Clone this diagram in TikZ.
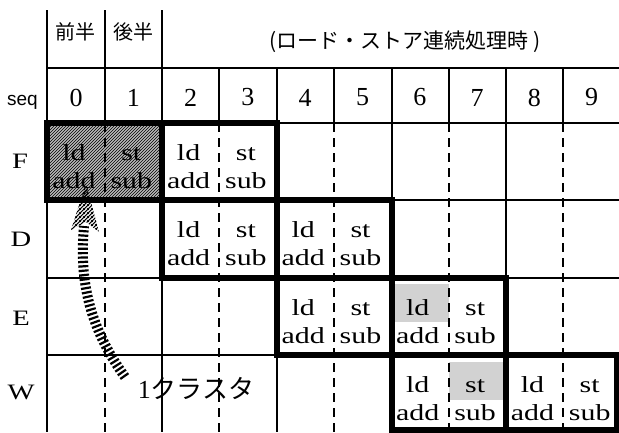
\documentclass[tikz,border=0pt]{standalone}
\usepackage{fontspec}
\setmainfont{Liberation Serif}
\newfontfamily\cellfont[FakeStretch=1.3]{Liberation Serif}
\newfontfamily\jpfont{Noto Sans CJK JP}
\newfontfamily\seqfont{Liberation Sans}
\usetikzlibrary{patterns,patterns.meta}

\tikzdeclarepattern{
  name=thickhatch,
  type=uncolored,
  bounding box={(0pt,0pt) and (4pt,4pt)},
  tile size={(4pt,4pt)},
  code={
    \draw[line width=1.3pt] (-1pt,-1pt) -- (5pt,5pt);
    \draw[line width=1.3pt] (-1pt,3pt) -- (1pt,5pt);
    \draw[line width=1.3pt] (3pt,-1pt) -- (5pt,1pt);
  }
}

\begin{document}
\begin{tikzpicture}[x=1pt,y=-1pt,
  gridline/.style={line width=1.1pt},
  dashline/.style={line width=1.1pt, dash pattern=on 9pt off 6pt},
  clusterbox/.style={line width=6pt},
  celltext/.style={font={\cellfont\fontsize{23}{28}\selectfont}, align=center, inner sep=0pt},
  rowlabel/.style={font={\cellfont\fontsize{22}{26}\selectfont}, inner sep=0pt},
  seqnum/.style={font={\fontsize{26}{30}\selectfont}, inner sep=0pt},
  jptext/.style={font={\jpfont\fontsize{20}{24}\selectfont}, inner sep=0pt},
  darkshade/.style={fill=gray!55},
  lightshade/.style={fill=gray!35},
  hatcharrow/.style={line width=10pt, dash pattern=on 2.2pt off 2.2pt},
]
\useasboundingbox (0,0) rectangle (619,432);

% shaded regions
\fill[darkshade] (47,123) rectangle (162,200);
\fill[pattern=north east lines] (47,123) rectangle (162,200);
\fill[lightshade] (394,284) rectangle (449,322);
\fill[lightshade] (449,362) rectangle (503,400);

% grid
\foreach \x in {47,105,162} \draw[gridline] (\x,10) -- (\x,123);
\foreach \x in {219,277,334,392,449,506,563} \draw[gridline] (\x,68) -- (\x,123);
\foreach \y in {68,123,200,278,355} \draw[gridline] (47,\y) -- (619,\y);
\foreach \x in {47,162,277,392,506} \draw[gridline] (\x,123) -- (\x,432);
\foreach \x in {105,219,334,449,563} \draw[dashline] (\x,123) -- (\x,432);

% cluster boxes
\foreach \xa/\xb/\ya/\yb in {47/162/123/200, 162/277/123/200, 162/277/200/278,
  277/392/200/278, 277/392/278/355, 392/506/278/355, 392/506/355/430, 506/617/355/430}
  \draw[clusterbox] (\xa,\ya) rectangle (\xb,\yb);

% header
\node[jptext] (zenhan) at (76,32) {前半};
\node[jptext] (kohan) at (133,32) {後半};
\node[jptext, font={\jpfont\fontsize{21}{24}\selectfont}] (title) at (405,42) {(ロード・ストア連続処理時 )};
\node[font={\seqfont\fontsize{19}{22}\selectfont}, anchor=base, inner sep=0pt] (seq) at (22.5,105) {seq};
\foreach \i in {0,...,9} {
  \pgfmathsetmacro{\cx}{76+57.3*\i}
  \node[seqnum] (n\i) at (\cx,97.5) {\i};
}

% row labels
\node[rowlabel] (rF) at (20,161.5) {F};
\node[rowlabel] (rD) at (21,239) {D};
\node[rowlabel] (rE) at (21,318) {E};
\node[rowlabel] (rW) at (21,392.5) {W};

% cell texts
\foreach \r/\ry/\ca in {F/123/0, F/123/2, D/200/2, D/200/4, E/278/4, E/278/6, W/355/6, W/355/8} {
  \pgfmathsetmacro{\xl}{76+57.3*\ca-2}
  \pgfmathsetmacro{\xr}{76+57.3*(\ca+1)-2}
  \pgfmathsetmacro{\yc}{\ry+46}
  \node[celltext] (\r\ca l) at (\xl,\yc) {\strut ld\\\strut add};
  \node[celltext] (\r\ca r) at (\xr,\yc) {\strut st\\\strut sub};
}

% cluster label and arrow
\node[inner sep=0pt, font={\fontsize{26}{30}\selectfont}] (cluster) at (196,388) {1\jpfont クラスタ};
\coordinate (tail) at (125,377);
\coordinate (shaftend) at (84,226);
\draw[hatcharrow] (tail) .. controls (95,335) and (78,290) .. (shaftend);
\fill[pattern=thickhatch] (71,230) -- (86,183) -- (99,232) -- (86,222) -- cycle;
\end{tikzpicture}
\end{document}
